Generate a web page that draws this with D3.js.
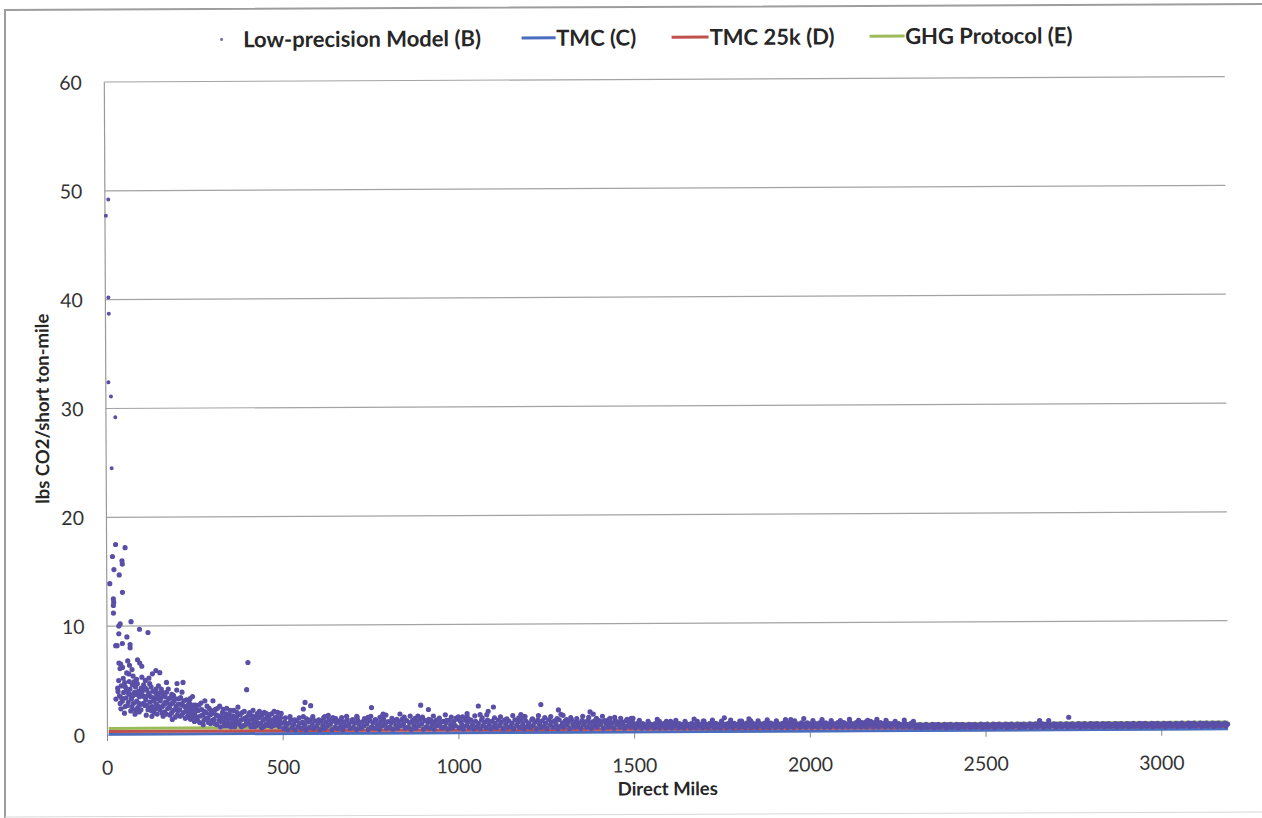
<!DOCTYPE html>
<html><head><meta charset="utf-8">
<script src="https://cdn.jsdelivr.net/npm/d3@7"></script>
<style>html,body{margin:0;padding:0;background:#fff;} svg{display:block;font-family:Lato,"Open Sans",sans-serif;}</style>
</head><body><svg id="chart" width="1262" height="818"></svg>
<script>
// ---------------- DATA ----------------
const seriesNames = ["Low-precision Model (B)", "TMC (C)", "TMC 25k (D)", "GHG Protocol (E)"];
const xTicks = [0, 500, 1000, 1500, 2000, 2500, 3000];
const yTicks = [0, 10, 20, 30, 40, 50, 60];
const xLabel = "Direct Miles";
const yLabel = "lbs CO2/short ton-mile";

// line series (miles, value)
const lineMiles = [5, 3190];
const tmcValues = [0.06, 0.06];
const tmc25kValues = [0.32, 0.30];
const ghgValues = [0.60, 0.70];

// Low-precision model points [miles, lbs CO2 / short ton-mile]
const lpHigh = [
  [4,47.7],[11,49.2],[10,40.2],[11,38.7],[9,32.4],[16,31.1],[28,29.2],[17,24.5],
  [27,17.5],[54,17.2],[18,16.4],[45,16.0],[46,15.7],[22,15.2],[37,14.7],[10,13.9],[46,13.1],
  [20,12.5],[21,12.2],[20,11.9],[20,11.2],[39,10.2],[35,10.0],[70,10.4],[94,9.7],[118,9.4],
  [35,9.3],[58,9.0],[45,8.4],[30,8.2],[26,8.2],[67,8.3],[67,8.0],[402,6.6],[398,4.1],
  [35,6.6],[40,6.5],[45,6.2],[38,6.1],[60,6.8],[65,6.4],[88,6.9],[94,6.6],[72,6.0],[100,6.3],
  [57,5.7],[75,5.4],[100,5.3],[130,5.6],[140,5.9],[151,5.7],[110,5.0],[85,5.1],[120,5.2],
  [170,4.8],[200,4.7],[217,4.8],[31,4.3],[51,4.8],[26,3.3]
];
const lpShort = [
  [32,4.0],[36,3.6],[41,4.5],[44,3.1],[48,3.9],[53,4.4],[55,3.4],[58,2.7],[62,3.8],[40,2.4],[50,2.0],
  [64,4.9],[66,4.2],[70,3.3],[73,4.6],[76,2.9],[79,3.9],[82,4.4],[85,3.1],[88,2.5],[90,4.0],[93,3.5],
  [96,2.8],[98,4.3],[68,2.2],[80,1.9],[92,2.1],
  [102,3.6],[105,4.6],[108,2.7],[111,3.2],[114,4.1],[117,2.3],[120,3.8],[123,3.0],[126,4.4],[129,2.6],
  [132,3.4],[135,2.0],[138,3.9],[141,2.8],[144,3.3],[147,4.5],[149,2.4],[112,1.8],[128,1.7],[143,1.9],
  [152,3.1],[155,4.2],[158,2.6],[161,3.6],[164,2.1],[167,3.0],[170,3.9],[173,2.4],[176,3.3],[179,1.8],
  [182,2.8],[185,3.7],[188,2.2],[191,3.1],[194,1.6],[197,2.6],[199,4.1],[160,1.7],[186,1.4],
  [202,2.2],[205,3.3],[208,1.7],[211,2.8],[214,3.9],[217,2.0],[220,2.6],[223,1.5],[226,3.2],[229,2.3],
  [232,1.8],[235,2.9],[238,1.4],[241,2.5],[244,3.5],[247,2.0],[249,1.2]
];
const lpShortExtra = [
  [34,5.0],[38,2.9],[42,3.4],[47,5.2],[52,2.6],[56,4.1],[61,3.0],[63,5.6],[67,3.7],[71,2.6],[74,3.6],
  [78,4.9],[81,2.3],[84,3.7],[87,4.7],[91,2.9],[95,3.9],[97,2.3],[101,4.0],[104,2.9],[107,3.5],[110,4.3],
  [113,2.7],[116,3.6],[119,2.5],[122,4.7],[125,3.5],[127,2.2],[131,4.0],[134,3.1],[137,2.4],[140,4.2],
  [142,3.6],[146,2.6],[148,3.8],[151,2.3],[154,3.4],[157,2.0],[159,3.9],[163,2.8],[166,3.5],[169,1.9],
  [172,2.9],[175,4.2],[178,2.5],[181,3.4],[184,2.0],[187,2.9],[190,3.6],[193,2.3],[196,3.3],[200,1.8],
  [203,2.8],[207,2.3],[210,3.4],[213,1.8],[216,2.7],[219,3.1],[222,2.1],[225,2.5],[228,1.6],[231,2.7],
  [234,2.1],[237,3.3],[240,1.8],[243,2.2],[246,2.7],[248,1.6]
];
const lpMid = [
  [252,2.7],[256,1.6],[260,2.2],[264,1.1],[268,2.9],[272,1.8],[276,1.3],[279,3.1],[283,2.0],[287,1.5],
  [291,2.4],[295,1.0],[298,1.9],[302,3.1],
  [305,1.4],[309,2.3],[313,0.9],[317,1.7],[321,2.6],[325,1.2],[329,2.0],[333,0.8],[337,1.5],[341,2.4],
  [345,1.1],[349,1.8],[353,0.7],[357,1.4],[361,2.2],[365,1.0],[369,1.6],[373,2.5],[377,0.9],[381,1.3],
  [385,2.0],[389,0.8],[393,1.5],[397,1.1],
  [404,1.8],[408,0.9],[412,1.4],[416,2.2],[420,0.7],[424,1.2],[428,1.9],[432,1.0],[436,1.6],[440,0.6],
  [444,1.3],[448,2.0],[452,0.9],[456,1.5],[460,1.1],[464,1.8],[468,0.7],[472,1.3],[476,2.1],[480,1.0],
  [484,1.6],[488,0.8],[492,1.2],[496,1.9]
];
const lpMidExtra = [
  [250,1.9],[254,2.4],[258,1.3],[262,2.7],[266,1.7],[270,2.3],[274,0.9],[278,2.1],[281,1.5],[285,2.6],
  [289,1.1],[293,1.8],[297,2.2],[300,1.3],[303,2.0],[307,1.0],[311,1.8],[315,2.4],[319,1.3],[323,0.7],
  [327,1.6],[331,2.3],[335,1.1],[339,1.9],[343,0.8],[347,1.5],[351,2.2],[355,1.0],[359,1.7],[363,0.7],
  [367,1.3],[371,2.0],[375,1.1],[379,1.8],[383,0.7],[387,1.4],[391,2.1],[395,0.9],[399,1.6],[402,1.2],
  [406,2.0],[410,0.7],[414,1.7],[418,1.1],[422,1.6],[426,0.8],[430,1.5],[434,2.1],[438,1.0],[442,1.8],
  [446,0.7],[450,1.4],[454,1.9],[458,0.8],[462,1.4],[466,1.1],[470,1.9],[474,0.8],[478,1.5],[482,1.2],
  [486,2.0],[490,0.7],[494,1.5],[498,1.0]
];
const lpOutliers = [
  [559,2.3],[559,1.6],[564,2.9],[580,2.6],[620,1.6],[643,1.5],[711,1.6],[743,1.5],[753,2.4],[783,1.6],
  [786,1.8],[834,1.8],[885,1.6],[893,2.6],[915,2.2],[937,1.2],[967,1.2],[1000,1.5],[1025,1.8],[1025,1.5],
  [1057,2.5],[1062,1.7],[1085,2.0],[1100,2.4],[1178,1.7],[1187,1.5],[1235,2.6],[1285,2.1],[1292,1.7],
  [1375,1.9],[1384,1.7],[1432,1.3],[1492,1.3],[1308,1.2],[1389,1.1],
  [1572,1.0],[1604,1.0],[1585,0.8],[1680,1.0],[1699,1.0],[1757,1.3],[1806,1.0],[1832,1.0],[1946,1.1],
  [2161,0.9],[2173,0.9],[2654,0.9],[2680,0.9],[2737,1.2]
];
const lpBandTop = [
  [508,1.5],[521,1.6],[534,1.3],[547,1.5],[568,1.4],[586,1.6],[603,1.3],[617,1.5],[630,1.7],[651,1.4],
  [668,1.5],[682,1.6],[699,1.3],[712,1.5],[733,1.4],[751,1.6],[764,1.3],[777,1.5],[794,1.7],[811,1.4],
  [825,1.3],[846,1.5],[863,1.6],[877,1.4],[898,1.5],[916,1.3],[929,1.6],[946,1.4],[963,1.7],[980,1.5],
  [994,1.4],[1012,1.5],[1029,1.3],[1047,1.6],[1068,1.4],[1081,1.7],[1103,1.4],[1120,1.5],[1138,1.3],
  [1155,1.6],[1172,1.4],[1190,1.5],[1211,1.3],[1228,1.6],[1246,1.4],[1263,1.5],[1281,1.3],[1298,1.6],
  [1320,1.4],[1337,1.3],[1354,1.5],[1371,1.4],[1393,1.3],[1410,1.5],[1428,1.2],[1445,1.4],[1462,1.3],
  [1480,1.2],[1497,1.3],
  [1515,1.1],[1540,1.0],[1566,1.2],[1592,1.0],[1619,1.1],[1645,1.0],[1671,1.2],[1697,1.0],[1723,1.1],
  [1749,1.0],[1775,1.1],[1801,1.0],[1827,1.2],[1853,1.0],[1879,1.1],[1905,1.0],[1931,1.1],[1957,1.0],
  [1983,1.2],[2009,1.0],[2035,1.1],[2061,1.0],[2087,1.0],[2113,1.1],[2139,1.0],[2165,1.0],[2191,1.1],
  [2217,1.0],[2243,0.9],[2269,1.0],[2295,0.9]
];
const lpBandA = [
  [503,0.5],[506,1.1],[510,0.8],[515,0.4],[518,1.0],[523,1.3],[527,0.6],[531,0.9],[536,0.4],[540,1.2],
  [544,0.7],[549,1.0],[553,0.5],[557,1.1],[562,0.8],[566,0.4],[571,1.1],[575,0.6],[579,1.3],[584,0.9],
  [588,0.5],[592,1.2],[597,0.7],[601,1.0],[606,0.4],[610,1.2],[614,0.8],[619,0.5],[623,1.1],[627,0.7],
  [632,1.3],[636,0.9],[640,0.4],[645,1.2],[649,0.6],[653,1.0],[658,0.5],[662,1.2],[666,0.8],[671,0.4],
  [675,1.1],[679,0.7],[684,1.3],[688,0.9],[692,0.5],[697,1.1],[701,0.6],[705,1.0],[710,0.4],[714,1.2],
  [718,0.8],[723,0.5],[727,1.1],[731,0.7],[736,1.3],[740,0.9],[744,0.4],[749,1.2],[753,0.6],[757,1.0],
  [762,0.5],[766,1.2],[770,0.8],[775,0.4],[779,1.1],[783,0.7],[788,1.3],[792,0.9],[796,0.5],[801,1.1],
  [805,0.6],[809,1.0],[814,0.4],[818,1.2],[822,0.8],[827,0.5],[831,1.1],[835,0.7],[840,1.3],[844,0.9],
  [848,0.5],[853,1.2],[857,0.6],[861,1.0],[866,0.4],[870,1.2],[874,0.8],[879,0.5],[883,1.1],[887,0.7],
  [892,1.3],[896,0.9],[900,0.4],[905,1.2],[909,0.6],[913,1.0],[918,0.5],[922,1.2],[926,0.8],[931,0.4],
  [935,1.1],[939,0.7],[944,1.3],[948,0.9],[952,0.5],[957,1.1],[961,0.6],[965,1.0],[970,0.4],[974,1.2],
  [978,0.8],[983,0.5],[987,1.1],[991,0.7],[996,1.3]
];
const lpBandB = [
  [1002,0.5],[1006,1.1],[1010,0.8],[1014,0.4],[1019,1.2],[1023,0.7],[1027,1.0],[1031,0.5],[1036,1.2],
  [1040,0.8],[1044,0.4],[1049,1.1],[1053,0.6],[1057,0.9],[1062,0.4],[1066,1.2],[1070,0.7],[1075,1.0],
  [1079,0.5],[1083,1.2],[1088,0.8],[1092,0.4],[1096,1.1],[1101,0.6],[1105,0.9],[1109,0.5],[1114,1.2],
  [1118,0.7],[1122,1.0],[1127,0.4],[1131,1.2],[1135,0.8],[1140,0.5],[1144,1.1],[1148,0.6],[1153,0.9],
  [1157,0.4],[1161,1.2],[1166,0.7],[1170,1.0],[1174,0.5],[1179,1.2],[1183,0.8],[1187,0.4],[1192,1.1],
  [1196,0.6],[1200,0.9],[1205,0.5],[1209,1.2],[1213,0.7],[1218,1.0],[1222,0.4],[1226,1.2],[1231,0.8],
  [1235,0.5],[1239,1.1],[1244,0.6],[1248,0.9],[1252,0.4],[1257,1.2],[1261,0.7],[1265,1.0],[1270,0.5],
  [1274,1.1],[1278,0.8],[1283,0.4],[1287,1.2],[1291,0.6],[1296,0.9],[1300,0.5],[1304,1.1],[1309,0.7],
  [1313,1.0],[1317,0.4],[1322,1.2],[1326,0.8],[1330,0.5],[1335,1.0],[1339,0.6],[1343,0.9],[1348,0.4],
  [1352,1.1],[1356,0.7],[1361,1.0],[1365,0.5],[1369,1.1],[1374,0.8],[1378,0.4],[1382,1.0],[1387,0.6],
  [1391,0.9],[1395,0.5],[1400,1.1],[1404,0.7],[1408,1.0],[1413,0.4],[1417,1.1],[1421,0.8],[1426,0.5],
  [1430,1.0],[1434,0.6],[1439,0.9],[1443,0.4],[1447,1.1],[1452,0.7],[1456,0.9],[1460,0.5],[1465,1.0],
  [1469,0.8],[1473,0.4],[1478,1.1],[1482,0.6],[1486,0.9],[1491,0.5],[1495,1.0],[1499,0.7]
];
const lpBandC = [
  [1504,0.4],[1508,0.8],[1512,0.6],[1517,0.7],[1521,0.4],[1525,0.8],[1530,0.5],[1534,0.7],[1538,0.4],
  [1543,0.8],[1547,0.6],[1551,0.7],[1556,0.4],[1560,0.8],[1564,0.5],[1569,0.7],[1573,0.4],[1577,0.8],
  [1582,0.6],[1586,0.7],[1590,0.4],[1595,0.8],[1599,0.5],[1603,0.7],[1608,0.4],[1612,0.8],[1616,0.6],
  [1621,0.7],[1625,0.4],[1629,0.8],[1634,0.5],[1638,0.7],[1642,0.4],[1647,0.8],[1651,0.6],[1655,0.7],
  [1660,0.4],[1664,0.8],[1668,0.5],[1673,0.7],[1677,0.4],[1681,0.8],[1686,0.6],[1690,0.7],[1694,0.4],
  [1699,0.8],[1703,0.5],[1707,0.7],[1712,0.4],[1716,0.8],[1720,0.6],[1725,0.7],[1729,0.4],[1733,0.8],
  [1738,0.5],[1742,0.7],[1746,0.4],[1751,0.8],[1755,0.6],[1759,0.7],[1764,0.4],[1768,0.8],[1772,0.5],
  [1777,0.7],[1781,0.4],[1785,0.8],[1790,0.6],[1794,0.7],[1798,0.4],[1803,0.8],[1807,0.5],[1811,0.7],
  [1816,0.4],[1820,0.8],[1824,0.6],[1829,0.7],[1833,0.4],[1837,0.8],[1842,0.5],[1846,0.7],[1850,0.4],
  [1855,0.8],[1859,0.6],[1863,0.7],[1868,0.4],[1872,0.8],[1876,0.5],[1881,0.7],[1885,0.4],[1889,0.8],
  [1894,0.6],[1898,0.7],[1902,0.4],[1907,0.8],[1911,0.5],[1915,0.7],[1920,0.4],[1924,0.8],[1928,0.6],
  [1933,0.7],[1937,0.4],[1941,0.8],[1946,0.5],[1950,0.7],[1954,0.4],[1959,0.8],[1963,0.6],[1967,0.7],
  [1972,0.4],[1976,0.8],[1980,0.5],[1985,0.7],[1989,0.4],[1993,0.8],[1998,0.6],
  [2002,0.7],[2006,0.4],[2011,0.8],[2015,0.5],[2019,0.7],[2024,0.4],[2028,0.8],[2032,0.6],[2037,0.7],
  [2041,0.4],[2045,0.8],[2050,0.5],[2054,0.7],[2058,0.4],[2063,0.8],[2067,0.6],[2071,0.7],[2076,0.4],
  [2080,0.8],[2084,0.5],[2089,0.7],[2093,0.4],[2097,0.8],[2102,0.6],[2106,0.7],[2110,0.4],[2115,0.8],
  [2119,0.5],[2123,0.7],[2128,0.4],[2132,0.8],[2136,0.6],[2141,0.7],[2145,0.4],[2149,0.8],[2154,0.5],
  [2158,0.7],[2162,0.4],[2167,0.8],[2171,0.6],[2175,0.7],[2180,0.4],[2184,0.8],[2188,0.5],[2193,0.7],
  [2197,0.4],[2201,0.8],[2206,0.6],[2210,0.7],[2214,0.4],[2219,0.8],[2223,0.5],[2227,0.7],[2232,0.4],
  [2236,0.7],[2240,0.6],[2245,0.7],[2249,0.4],[2253,0.7],[2258,0.5],[2262,0.6],[2266,0.4],[2271,0.7],
  [2275,0.5],[2279,0.6],[2284,0.4],[2288,0.7],[2292,0.5],[2297,0.6]
];
const lpBandD = [
  [2301,0.35],[2305,0.55],[2310,0.45],[2314,0.6],[2318,0.3],[2323,0.5],[2327,0.4],[2331,0.6],[2336,0.35],
  [2340,0.5],[2344,0.45],[2349,0.6],[2353,0.3],[2357,0.55],[2362,0.4],[2366,0.6],[2370,0.35],[2375,0.5],
  [2379,0.45],[2383,0.6],[2388,0.3],[2392,0.55],[2396,0.4],[2401,0.6],[2405,0.35],[2409,0.5],[2414,0.45],
  [2418,0.6],[2422,0.3],[2427,0.55],[2431,0.4],[2435,0.6],[2440,0.35],[2444,0.5],[2448,0.45],[2453,0.6],
  [2457,0.3],[2461,0.55],[2466,0.4],[2470,0.6],[2474,0.35],[2479,0.5],[2483,0.45],[2487,0.6],[2492,0.3],
  [2496,0.55],[2500,0.4],[2505,0.6],[2509,0.35],[2513,0.5],[2518,0.45],[2522,0.6],[2526,0.3],[2531,0.55],
  [2535,0.4],[2539,0.6],[2544,0.35],[2548,0.5],[2552,0.45],[2557,0.6],[2561,0.3],[2565,0.55],[2570,0.4],
  [2574,0.6],[2578,0.35],[2583,0.5],[2587,0.45],[2591,0.6],[2596,0.3],[2600,0.55],[2604,0.4],[2609,0.6],
  [2613,0.35],[2617,0.5],[2622,0.45],[2626,0.6],[2630,0.3],[2635,0.55],[2639,0.4],[2643,0.6],[2648,0.35],
  [2652,0.5],[2656,0.45],[2661,0.6],[2665,0.3],[2669,0.55],[2674,0.4],[2678,0.6],[2682,0.35],[2687,0.5],
  [2691,0.45],[2695,0.6],[2700,0.3],[2704,0.55],[2708,0.4],[2713,0.6],[2717,0.35],[2721,0.5],[2726,0.45],
  [2730,0.6],[2734,0.3],[2739,0.55],[2743,0.4],[2747,0.6],[2752,0.35],[2756,0.5],[2760,0.45],[2765,0.6],
  [2769,0.3],[2773,0.55],[2778,0.4],[2782,0.6],[2786,0.35],[2791,0.5],[2795,0.45],[2799,0.6],[2804,0.3],
  [2808,0.55],[2812,0.4],[2817,0.6],[2821,0.35],[2825,0.5],[2830,0.45],[2834,0.6],[2838,0.3],[2843,0.55],
  [2847,0.4],[2851,0.6],[2856,0.35],[2860,0.5],[2864,0.45],[2869,0.6],[2873,0.3],[2877,0.55],[2882,0.4],
  [2886,0.6],[2890,0.35],[2895,0.5],[2899,0.45],[2903,0.6],[2908,0.3],[2912,0.55],[2916,0.4],[2921,0.6],
  [2925,0.35],[2929,0.5],[2934,0.45],[2938,0.6],[2942,0.3],[2947,0.55],[2951,0.4],[2955,0.6],[2960,0.35],
  [2964,0.5],[2968,0.45],[2973,0.6],[2977,0.3],[2981,0.55],[2986,0.4],[2990,0.6],[2994,0.35],[2999,0.5],
  [3003,0.45],[3007,0.6],[3012,0.3],[3016,0.55],[3020,0.4],[3025,0.6],[3029,0.35],[3033,0.5],[3038,0.45],
  [3042,0.6],[3046,0.3],[3051,0.55],[3055,0.4],[3059,0.6],[3064,0.35],[3068,0.5],[3072,0.45],[3077,0.6],
  [3081,0.3],[3085,0.55],[3090,0.4],[3094,0.6],[3098,0.35],[3103,0.5],[3107,0.45],[3111,0.6],[3116,0.3],
  [3120,0.55],[3124,0.4],[3129,0.6],[3133,0.35],[3137,0.5],[3142,0.45],[3146,0.6],[3150,0.3],[3155,0.55],
  [3159,0.4],[3163,0.6],[3168,0.35],[3172,0.5],[3176,0.45],[3181,0.6],[3185,0.35],[3189,0.5]
];

// ---------------- DRAW ----------------
const svg = d3.select("#chart");
const colors = { lp: "#5a4fa6", tmc: "#4a6dc0", tmc25k: "#c0504d", ghg: "#9bbb59" };

// outer chart frame (slightly skewed like the scanned page)
svg.append("path").attr("d", "M5,818 L5,10 L1262,4").attr("fill", "none").attr("stroke", "#9d9d9d").attr("stroke-width", 2);
svg.append("path").attr("d", "M5,817 L1262,812").attr("fill", "none").attr("stroke", "#d8d8d8").attr("stroke-width", 1);

const g = svg.append("g").attr("transform", "rotate(-0.28,107,735)");

const x = d3.scaleLinear().domain([0, 3190]).range([107, 1228]);
const y = d3.scaleLinear().domain([0, 60]).range([735, 82]);

// gridlines
g.append("g").selectAll("line").data(yTicks.filter(d => d > 0)).join("line")
  .attr("x1", x(0)).attr("x2", x(3190)).attr("y1", d => y(d)).attr("y2", d => y(d))
  .attr("stroke", "#a3a3a3").attr("stroke-width", 1.2);

// y axis
const yAxis = d3.axisLeft(y).tickValues(yTicks).tickSize(0).tickPadding(22);
const ya = g.append("g").attr("transform", `translate(${x(0)},0)`).call(yAxis);
ya.select(".domain").attr("stroke", "#999").attr("stroke-width", 1.2);
ya.selectAll("text").attr("font-family", "Lato, sans-serif").attr("font-size", 19.5).attr("fill", "#333").attr("dy", "0.36em");

// x axis
const xAxis = d3.axisBottom(x).tickValues(xTicks).tickFormat(d3.format("d")).tickSize(6).tickPadding(20);
const xa = g.append("g").attr("transform", `translate(0,${y(0)})`).call(xAxis);
xa.select(".domain").attr("stroke", "#999").attr("stroke-width", 1.2).attr("d", `M${x(0)},0H${x(3190)}`);
xa.selectAll(".tick line").attr("stroke", "#888");
xa.selectAll("text").attr("font-family", "Lato, sans-serif").attr("font-size", 19.5).attr("fill", "#333");

// lines
const lineGen = d3.line().x(d => x(d[0])).y(d => y(d[1]));
const lines = [
  { vals: tmcValues, color: colors.tmc },
  { vals: tmc25kValues, color: colors.tmc25k },
  { vals: ghgValues, color: colors.ghg }
];
lines.forEach(l => {
  g.append("path").datum(lineMiles.map((m, i) => [m, l.vals[i]]))
    .attr("d", lineGen).attr("fill", "none").attr("stroke", l.color).attr("stroke-width", 3);
});

// scatter
const lpAll = [].concat(lpBandD, lpBandC, lpBandB, lpBandA, lpBandTop, lpMid, lpMidExtra, lpShort, lpShortExtra, lpHigh, lpOutliers);
g.append("g").selectAll("circle").data(lpAll).join("circle")
  .attr("cx", d => x(d[0])).attr("cy", d => y(d[1])).attr("r", d => d[1] > 20 ? 2.0 : 2.6)
  .attr("fill", colors.lp);

// axis titles
g.append("text").attr("x", (x(0) + x(3190)) / 2).attr("y", 798).attr("text-anchor", "middle")
  .attr("font-size", 18.5).attr("font-weight", 700).attr("fill", "#262626").text(xLabel);
g.append("text").attr("transform", `translate(50.5,${(y(0) + y(60)) / 2}) rotate(-90)`).attr("text-anchor", "middle")
  .attr("font-size", 18.5).attr("font-weight", 700).attr("fill", "#262626").text(yLabel);

// legend
const lg = g.append("g").attr("font-size", 22).attr("font-weight", 700).attr("fill", "#262626");
const legendY = 48;
lg.append("circle").attr("cx", 225).attr("cy", 40).attr("r", 1.6).attr("fill", "#7b74b2");
lg.append("text").attr("x", 246.5).attr("y", legendY).text(seriesNames[0]);
const legendLines = [
  { x1: 525, x2: 559, tx: 559.5, color: colors.tmc, name: seriesNames[1] },
  { x1: 675, x2: 712, tx: 713, color: colors.tmc25k, name: seriesNames[2] },
  { x1: 873, x2: 908, tx: 908.5, color: colors.ghg, name: seriesNames[3] }
];
legendLines.forEach(d => {
  lg.append("line").attr("x1", d.x1).attr("x2", d.x2).attr("y1", 40).attr("y2", 40)
    .attr("stroke", d.color).attr("stroke-width", 3);
  lg.append("text").attr("x", d.tx).attr("y", legendY).text(d.name);
});
</script>
</body></html>
